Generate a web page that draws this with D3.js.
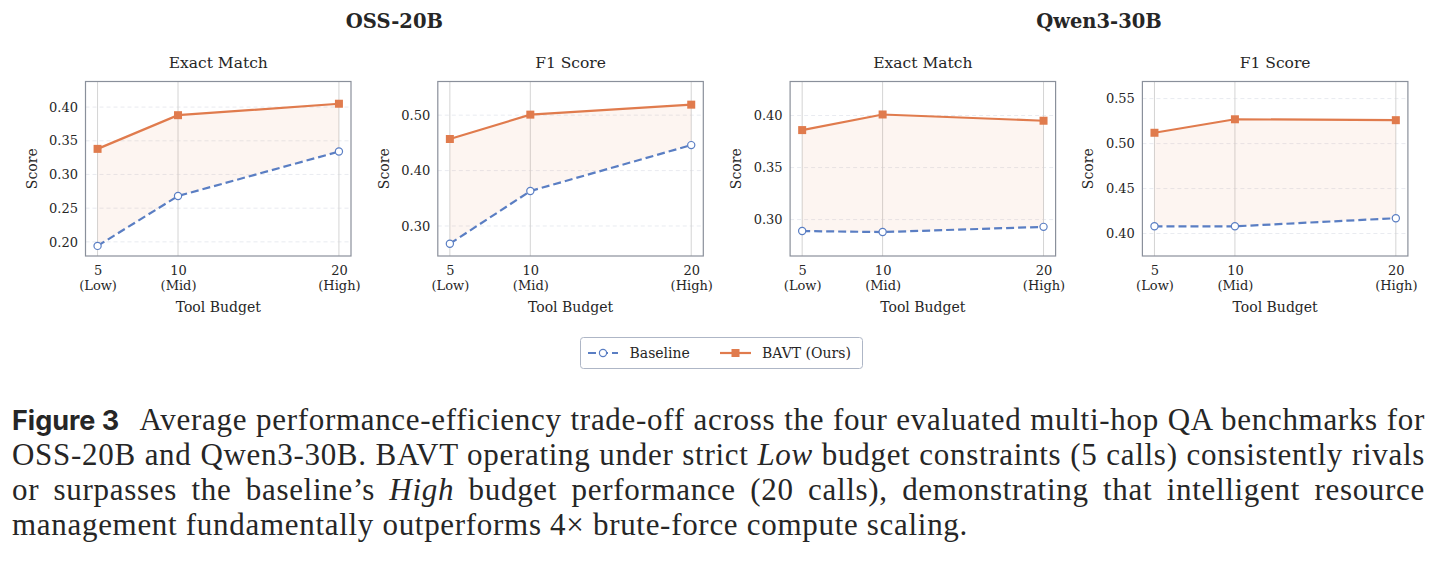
<!DOCTYPE html>
<html>
<head>
<meta charset="utf-8">
<script src="https://cdn.jsdelivr.net/npm/d3@7"></script>
<style>
  body { margin: 0; background: #fff; }
  text { fill: #262626; }
</style>
</head>
<body>
<script>
// data
var budgets = [5, 10, 20];
var budgetLabels = ["(Low)", "(Mid)", "(High)"];
var models = ["OSS-20B", "Qwen3-30B"];
var metrics = ["Exact Match", "F1 Score", "Exact Match", "F1 Score"];

var baseline = [
  [0.194, 0.268, 0.334],
  [0.268, 0.363, 0.446],
  [0.289, 0.288, 0.293],
  [0.408, 0.408, 0.417]
];
var bavt = [
  [0.338, 0.388, 0.405],
  [0.457, 0.501, 0.519],
  [0.386, 0.401, 0.395],
  [0.512, 0.527, 0.526]
];
var yLimits = [[0.179, 0.438], [0.2458, 0.5608], [0.265, 0.4327], [0.375, 0.569]];
var yTicks = [
  [0.20, 0.25, 0.30, 0.35, 0.40],
  [0.30, 0.40, 0.50],
  [0.30, 0.35, 0.40],
  [0.40, 0.45, 0.50, 0.55]
];
var seriesNames = ["Baseline", "BAVT (Ours)"];

var orange = "#e07b4d", blue = "#5a7ec3";
var serif = "'DejaVu Serif', serif";

var W = 1442, H = 561;
var svg = d3.select("body").append("svg")
  .attr("width", W).attr("height", H);
svg.append("rect").attr("width", W).attr("height", H).attr("fill", "#fff");

// panel layout
var panelW = 265.5, panelTop = 81.5, panelBottom = 256;
function panelLeft(i) { return 85.5 + i * 352.3; }

// model titles
models.forEach(function(m, k) {
  var cx = (panelLeft(2 * k) + panelLeft(2 * k + 1) + panelW) / 2;
  svg.append("text")
    .attr("x", cx).attr("y", 28)
    .attr("text-anchor", "middle")
    .style("font-family", serif).style("font-weight", "bold").style("font-size", "19.5px")
    .text(m);
});

metrics.forEach(function(title, i) {
  var x0 = panelLeft(i);
  var x = d3.scaleLinear().domain([4.25, 20.75]).range([x0, x0 + panelW]);
  var y = d3.scaleLinear().domain(yLimits[i]).range([panelBottom, panelTop]);
  var g = svg.append("g");

  // horizontal dashed grid
  g.selectAll(".hg").data(yTicks[i]).enter().append("line")
    .attr("x1", x0).attr("x2", x0 + panelW)
    .attr("y1", function(d) { return y(d); }).attr("y2", function(d) { return y(d); })
    .attr("stroke", "#e6e9ee").attr("stroke-width", 0.9).attr("stroke-dasharray", "4,3");

  // vertical grid
  g.selectAll(".vg").data(budgets).enter().append("line")
    .attr("x1", function(d) { return x(d); }).attr("x2", function(d) { return x(d); })
    .attr("y1", panelTop).attr("y2", panelBottom)
    .attr("stroke", "#d4d4d4").attr("stroke-width", 1);

  // shaded gap
  var pts = budgets.map(function(b, j) { return {b: b, lo: baseline[i][j], hi: bavt[i][j]}; });
  g.append("path").datum(pts)
    .attr("fill", orange).attr("fill-opacity", 0.08)
    .attr("d", d3.area()
      .x(function(d) { return x(d.b); })
      .y0(function(d) { return y(d.lo); })
      .y1(function(d) { return y(d.hi); }));

  // frame
  g.append("rect")
    .attr("x", x0).attr("y", panelTop).attr("width", panelW).attr("height", panelBottom - panelTop)
    .attr("fill", "none").attr("stroke", "#8a909b").attr("stroke-width", 1.2);

  var line = d3.line()
    .x(function(d, j) { return x(budgets[j]); })
    .y(function(d) { return y(d); });

  g.append("path").datum(baseline[i])
    .attr("fill", "none").attr("stroke", blue).attr("stroke-width", 2.2)
    .attr("stroke-dasharray", "8,4").attr("d", line);
  g.append("path").datum(bavt[i])
    .attr("fill", "none").attr("stroke", orange).attr("stroke-width", 2.2)
    .attr("d", line);

  g.selectAll(".bm").data(baseline[i]).enter().append("circle")
    .attr("cx", function(d, j) { return x(budgets[j]); })
    .attr("cy", function(d) { return y(d); })
    .attr("r", 3.6).attr("fill", "#fff").attr("stroke", blue).attr("stroke-width", 1.2);
  g.selectAll(".om").data(bavt[i]).enter().append("rect")
    .attr("x", function(d, j) { return x(budgets[j]) - 4; })
    .attr("y", function(d) { return y(d) - 4; })
    .attr("width", 8).attr("height", 8).attr("fill", orange);

  // y axis
  var yAxis = g.append("g")
    .attr("transform", "translate(" + x0 + ",0)")
    .call(d3.axisLeft(y).tickValues(yTicks[i]).tickFormat(d3.format(".2f")).tickSize(0).tickPadding(7.5));
  yAxis.select(".domain").remove();
  yAxis.selectAll("text").style("font-family", serif).style("font-size", "13px").attr("fill", "#262626");

  // x axis
  var xAxis = g.append("g")
    .attr("transform", "translate(0," + panelBottom + ")")
    .call(d3.axisBottom(x).tickValues(budgets).tickFormat("").tickSize(0));
  xAxis.select(".domain").remove();
  xAxis.selectAll(".tick").each(function(d, j) {
    var t = d3.select(this).append("text")
      .attr("text-anchor", "middle")
      .style("font-family", serif).style("font-size", "13px").attr("fill", "#262626");
    t.append("tspan").attr("x", 0).attr("y", 19).text(d);
    t.append("tspan").attr("x", 0).attr("y", 34).text(budgetLabels[j]);
  });

  g.append("text")
    .attr("x", x0 + panelW / 2).attr("y", 68)
    .attr("text-anchor", "middle")
    .style("font-family", serif).style("font-size", "15.5px")
    .text(title);
  g.append("text")
    .attr("x", x0 + panelW / 2).attr("y", 312)
    .attr("text-anchor", "middle")
    .style("font-family", serif).style("font-size", "14px")
    .text("Tool Budget");
  g.append("text")
    .attr("transform", "translate(" + (x0 - 49) + "," + ((panelTop + panelBottom) / 2) + ") rotate(-90)")
    .attr("text-anchor", "middle")
    .style("font-family", serif).style("font-size", "14px")
    .text("Score");
});

// legend
var leg = svg.append("g");
leg.append("rect")
  .attr("x", 580.5).attr("y", 337.5).attr("width", 282).attr("height", 31).attr("rx", 3)
  .attr("fill", "#fff").attr("stroke", "#aeb6c6").attr("stroke-width", 1);
var legY = 353;
leg.append("line").attr("x1", 588).attr("x2", 618).attr("y1", legY).attr("y2", legY)
  .attr("stroke", blue).attr("stroke-width", 2.2).attr("stroke-dasharray", "8,4");
leg.append("circle").attr("cx", 603).attr("cy", legY).attr("r", 3.6)
  .attr("fill", "#fff").attr("stroke", blue).attr("stroke-width", 1.2);
leg.append("line").attr("x1", 720).attr("x2", 751).attr("y1", legY).attr("y2", legY)
  .attr("stroke", orange).attr("stroke-width", 2.2);
leg.append("rect").attr("x", 731.5).attr("y", legY - 4).attr("width", 8).attr("height", 8).attr("fill", orange);
leg.selectAll(".lt").data(seriesNames).enter().append("text")
  .attr("x", function(d, k) { return k === 0 ? 629.5 : 762; })
  .attr("y", legY + 5)
  .style("font-family", serif).style("font-size", "14px")
  .text(function(d) { return d; });

// caption
var capFont = "'Liberation Serif', serif";
var capSize = 31;
var capLines = [
  [["Average performance-efficiency trade-off across the four evaluated multi-hop QA benchmarks for", ""]],
  [["OSS-20B and Qwen3-30B. BAVT operating under strict ", ""], ["Low", "italic"], [" budget constraints (5 calls) consistently rivals", ""]],
  [["or surpasses the baseline\u2019s ", ""], ["High", "italic"], [" budget performance (20 calls), demonstrating that intelligent resource", ""]],
  [["management fundamentally outperforms 4\u00d7 brute-force compute scaling.", ""]]
];
svg.append("text")
  .attr("x", 12).attr("y", 430)
  .style("font-family", "Inter, 'Open Sans', sans-serif").style("font-weight", "bold").style("font-size", "27px")
  .attr("fill", "#111")
  .text("Figure 3");
capLines.forEach(function(parts, k) {
  var x0 = k === 0 ? 139.5 : 12;
  var t = svg.append("text")
    .attr("x", x0).attr("y", 430 + k * 35)
    .style("font-family", capFont).style("font-size", capSize + "px")
    .attr("letter-spacing", 0.7)
    .attr("fill", "#111");
  parts.forEach(function(p) {
    t.append("tspan").style("font-style", p[1] || "normal").text(p[0]);
  });
  if (k < capLines.length - 1) {
    var full = parts.map(function(p) { return p[0]; }).join("");
    var spaces = full.split(" ").length - 1;
    var extra = (1425 - x0 - t.node().getComputedTextLength()) / spaces;
    t.attr("word-spacing", extra);
  }
});
</script>
</body>
</html>
